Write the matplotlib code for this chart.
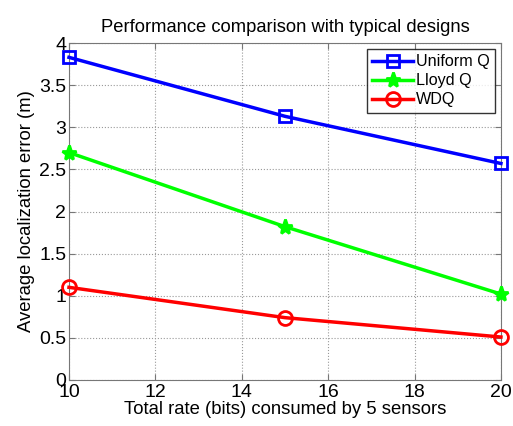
import matplotlib
matplotlib.use("Agg")
import matplotlib.pyplot as plt

plt.rcParams['font.family'] = ['Liberation Sans', 'DejaVu Sans']

rates = [10, 15, 20]
uniform_q = [3.83, 3.13, 2.57]
lloyd_q = [2.70, 1.82, 1.02]
wdq = [1.10, 0.74, 0.51]
xticks = [10, 12, 14, 16, 18, 20]
yticks = [0, 0.5, 1, 1.5, 2, 2.5, 3, 3.5, 4]

fig = plt.figure(figsize=(5.13, 4.26), dpi=100)
ax = fig.add_axes([0.1345, 0.108, 0.842, 0.791])

ax.plot(rates, uniform_q, color='#0000ff', lw=2.5, marker='s', ms=9, mfc='none', mew=2, label='Uniform Q', clip_on=False, zorder=3)
ax.plot(rates, lloyd_q, color='#00ff00', lw=2.5, marker='*', ms=11, mfc='#00ff00', mew=2, label='Lloyd Q', clip_on=False, zorder=3)
ax.plot(rates, wdq, color='#ff0000', lw=2.5, marker='o', ms=10, mfc='none', mew=2, label='WDQ', clip_on=False, zorder=3)

ax.set_xlim(10, 20)
ax.set_ylim(0, 4)
ax.set_xticks(xticks)
ax.set_yticks(yticks)
ax.set_yticklabels(['0', '0.5', '1', '1.5', '2', '2.5', '3', '3.5', '4'])
ax.grid(True, linestyle=':', color='#999999', lw=0.8)
ax.tick_params(direction='in', labelsize=14, top=True, right=True, length=4, color='#777777', pad=2)
ax.tick_params(axis='x', pad=3)
for s in ax.spines.values():
    s.set_color('#777777')
    s.set_linewidth(0.8)

ax.set_title('Performance comparison with typical designs', fontsize=13.2, pad=8)
ax.set_xlabel('Total rate (bits) consumed by 5 sensors', fontsize=13.3, labelpad=0)
ax.set_ylabel('Average localization error (m)', fontsize=13.3, labelpad=3)

leg = ax.legend(loc='upper right', fontsize=11.6, frameon=True, fancybox=False,
                edgecolor='black', borderaxespad=0.35, handlelength=2.5,
                handletextpad=0.2, labelspacing=0.25, borderpad=0.35)
leg.get_frame().set_linewidth(1.0)

fig.savefig('out.png', dpi=100)
